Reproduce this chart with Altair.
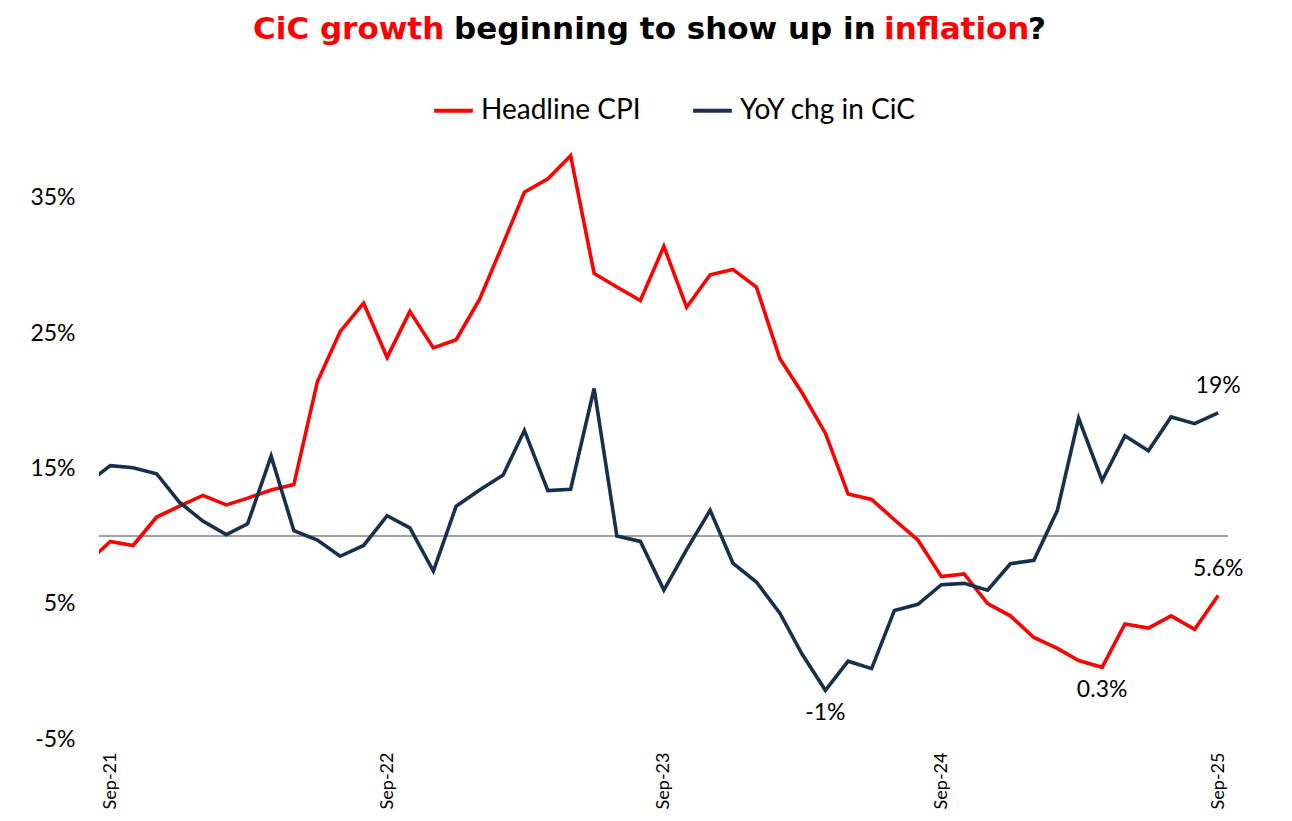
import altair as alt
import pandas as pd

# ---- data ----
months = pd.date_range("2021-08-01", "2025-09-01", freq="MS")  # Aug-21 .. Sep-25

headline_cpi = [8.0, 9.6, 9.3, 11.4, 12.2, 13.0, 12.3, 12.8, 13.4, 13.8,
                21.4, 25.1, 27.2, 23.2, 26.6, 23.9, 24.5, 27.5, 31.6, 35.4,
                36.4, 38.1, 29.4, 28.4, 27.4, 31.4, 26.9, 29.3, 29.7, 28.4,
                23.1, 20.6, 17.6, 13.1, 12.7, 11.2, 9.7, 7.0, 7.2, 5.0,
                4.1, 2.5, 1.7, 0.8, 0.3, 3.5, 3.2, 4.1, 3.1, 5.6]

yoy_cic = [13.9, 15.2, 15.05, 14.6, 12.5, 11.1, 10.1, 10.9, 15.9, 10.4,
           9.7, 8.5, 9.3, 11.5, 10.6, 7.4, 12.2, 13.4, 14.5, 17.8,
           13.35, 13.45, 20.9, 10.0, 9.6, 6.0, 9.0, 11.9, 8.0, 6.6,
           4.3, 1.3, -1.4, 0.75, 0.2, 4.5, 4.95, 6.4, 6.5, 6.0,
           7.95, 8.2, 11.9, 18.7, 14.1, 17.4, 16.3, 18.8, 18.3, 19.1]

series_names = ["Headline CPI", "YoY chg in CiC"]
series_colors = ["#FF0000", "#17304B"]

y_ticks = [-5, 5, 15, 25, 35]
x_ticks = ["2021-09-01", "2022-09-01", "2023-09-01", "2024-09-01", "2025-09-01"]
ref_level = 10

# annotations: label, month, value, position
ann_text = ["19%", "5.6%", "0.3%", "-1%"]
ann_month = ["2025-09-01", "2025-09-01", "2025-04-01", "2024-04-01"]
ann_value = [19.1, 5.6, 0.3, -1.4]
ann_pos = ["above", "above", "below", "below"]

# ---- frames ----
df = pd.DataFrame({
    "date": list(months) * 2,
    "value": headline_cpi + yoy_cic,
    "series": [series_names[0]] * len(months) + [series_names[1]] * len(months),
})
ann = pd.DataFrame({"text": ann_text, "date": pd.to_datetime(ann_month),
                    "value": ann_value, "pos": ann_pos})

FONT = "Lato"
W, H = 1129, 609

x_scale = alt.Scale(domain=["2021-08-17", "2025-09-14"])
y_scale = alt.Scale(domain=[-5, 40], nice=False)

x_enc = alt.X("date:T", scale=x_scale,
              axis=alt.Axis(values=x_ticks, format="%b-%y", labelAngle=270,
                            labelFont=FONT, labelFontSize=18, labelColor="#000",
                            labelPadding=13, ticks=False, domain=False, grid=False,
                            title=None))
y_enc = alt.Y("value:Q", scale=y_scale,
              axis=alt.Axis(values=y_ticks, labelExpr="datum.value + '%'",
                            labelFont=FONT, labelFontSize=23, labelColor="#000",
                            labelPadding=24, ticks=False, domain=False, grid=False,
                            title=None))

lines = alt.Chart(df).mark_line(strokeWidth=3.6, clip=True).encode(
    x=x_enc, y=y_enc,
    color=alt.Color("series:N",
                    scale=alt.Scale(domain=series_names, range=series_colors),
                    legend=alt.Legend(orient="none", legendX=333, legendY=-41,
                                      direction="horizontal", title=None,
                                      symbolType="stroke", symbolSize=1500,
                                      symbolStrokeWidth=4, labelFont=FONT,
                                      labelFontSize=28, labelColor="#000",
                                      labelOffset=6, columnPadding=44,
                                      labelLimit=400)),
)

rule = alt.Chart(pd.DataFrame({"v": [ref_level]})).mark_rule(
    color="#444444", strokeWidth=1).encode(y=alt.Y("v:Q", scale=y_scale))

ann_above = alt.Chart(ann[ann.pos == "above"]).mark_text(
    font=FONT, fontSize=23, dy=-27, color="#000").encode(
    x=alt.X("date:T", scale=x_scale), y=alt.Y("value:Q", scale=y_scale), text="text:N")
ann_below = alt.Chart(ann[ann.pos == "below"]).mark_text(
    font=FONT, fontSize=23, dy=23, color="#000").encode(
    x=alt.X("date:T", scale=x_scale), y=alt.Y("value:Q", scale=y_scale), text="text:N")

# multi-coloured title
title_parts = ["CiC growth", "beginning to show up in", "inflation", "?"]
title_colors = ["#FF0000", "#000000", "#FF0000", "#000000"]
title_x = [154, 355, 785, 929]
title_layers = []
for t, c, xx in zip(title_parts, title_colors, title_x):
    title_layers.append(
        alt.Chart(pd.DataFrame({"t": [t]})).mark_text(
            font="DejaVu Sans", fontSize=31, fontWeight="bold", color=c, align="left",
            baseline="middle").encode(text="t:N", x=alt.value(xx), y=alt.value(-100))
    )

chart = alt.layer(rule, lines, ann_above, ann_below, *title_layers).properties(
    width=W, height=H,
    autosize=alt.AutoSizeParams(type="none"),
    padding={"left": 99, "top": 130, "right": 64, "bottom": 82},
).configure(background="white").configure_view(stroke=None)

chart.save("out.html", embed_options={"renderer": "svg", "actions": False})
